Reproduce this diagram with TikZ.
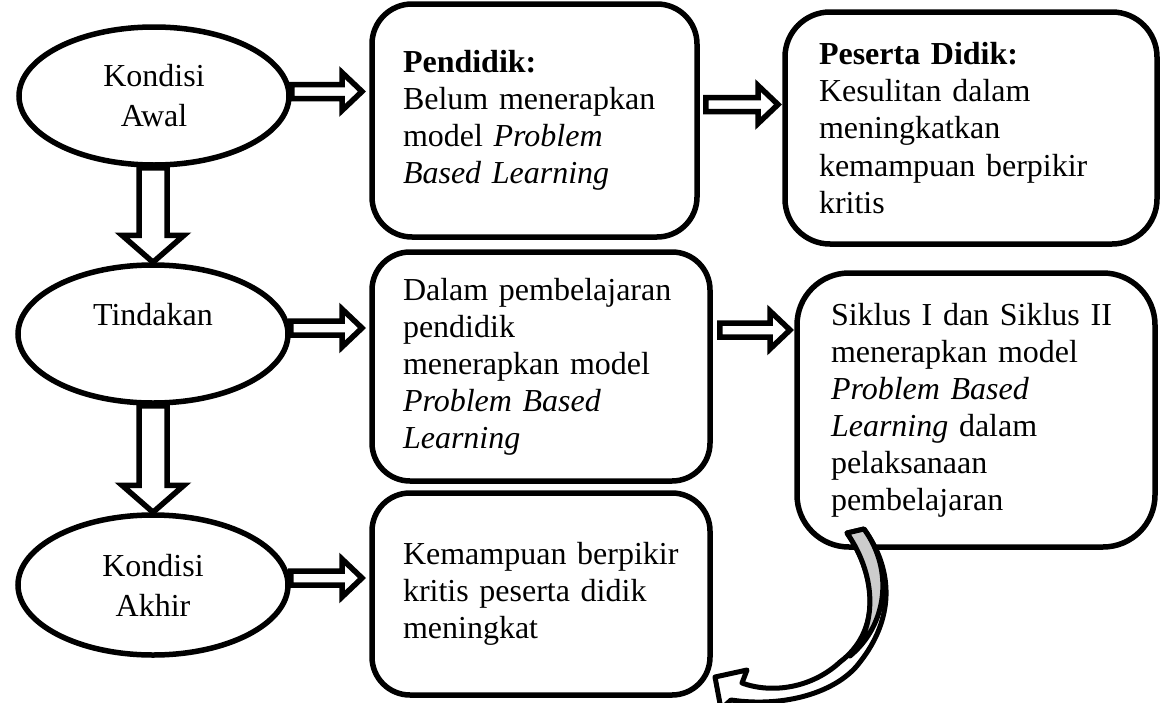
\documentclass[tikz,border=0pt]{standalone}
\usepackage{fontspec}
\setmainfont{Liberation Serif}
\usetikzlibrary{shapes.geometric,calc}

\newlength{\du}
\setlength{\du}{0.375pt}

\tikzset{
  stage/.style={ellipse, draw, line width=5.5\du, fill=white, inner sep=0pt,
    minimum width=270\du, minimum height=138\du, align=center,
    font=\fontsize{12}{15}\selectfont},
  infobox/.style={rectangle, draw, line width=5.5\du, fill=white,
    rounded corners=38\du, inner sep=0pt, align=left,
    font=\fontsize{12}{13.9}\selectfont},
  hollow/.style={draw, line width=5.5\du, fill=white, line join=miter},
  twist/.style={draw, line width=5\du, fill=white, line join=round},
}

% hollow arrow to the right, from #1 to the tip #2
\newcommand{\hollowright}[2]{%
  \draw[hollow] ($(#1 |- #2)+(0,7\du)$) -- ($(#2)+(-20\du,7\du)$)
    -- ($(#2)+(-20\du,19\du)$) -- (#2) -- ($(#2)+(-20\du,-19\du)$)
    -- ($(#2)+(-20\du,-7\du)$) -- ($(#1 |- #2)+(0,-7\du)$) -- cycle;}
% hollow arrow downwards, from #1 to the tip #2
\newcommand{\hollowdown}[2]{%
  \draw[hollow] ($(#2 |- #1)+(-14\du,0)$) -- ($(#2)+(-14\du,-27\du)$)
    -- ($(#2)+(-31\du,-27\du)$) -- (#2) -- ($(#2)+(31\du,-27\du)$)
    -- ($(#2)+(14\du,-27\du)$) -- ($(#2 |- #1)+(14\du,0)$) -- cycle;}

\begin{document}
\begin{tikzpicture}[yscale=-1]
\useasboundingbox (0,0) rectangle (1167\du,703\du);

% left column
\node[stage] (awal) at (154\du,96\du) {Kondisi\\Awal};
\node[stage] (tind) at (153\du,334\du) {Tindakan\\\mbox{}};
\node[stage, minimum height=140\du] (akhir) at (153\du,585\du) {Kondisi\\Akhir};

% middle column
\node[infobox, rounded corners=40\du, minimum width=325\du, minimum height=233\du,
  text width=263\du] (pend) at (534.5\du,120.5\du)
  {\textbf{Pendidik:}\\Belum menerapkan\\model \textit{Problem}\\\textit{Based Learning}};
\node[infobox, minimum width=338\du, minimum height=229\du,
  text width=276\du] (dal) at (541\du,366.5\du)
  {Dalam pembelajaran\\pendidik\\menerapkan model\\\textit{Problem Based}\\\textit{Learning}};
\node[infobox, minimum width=338\du, minimum height=202\du,
  text width=276\du] (kem) at (541\du,594\du)
  {Kemampuan berpikir\\kritis peserta didik\\meningkat};

% right column
\node[infobox, rounded corners=45\du, minimum width=372\du, minimum height=232\du,
  text width=304\du] (pes) at (971\du,128\du)
  {\textbf{Peserta Didik:}\\Kesulitan dalam\\meningkatkan\\kemampuan berpikir\\kritis};
\node[infobox, rounded corners=52\du, minimum width=358\du, minimum height=274\du,
  text width=290\du] (sik) at (976\du,410\du)
  {Siklus I dan Siklus II\\menerapkan model\\\textit{Problem Based}\\\textit{Learning} dalam\\pelaksanaan\\pembelajaran};

% arrow tips and free ends
\coordinate (tipawal) at (362\du,91.5\du);
\coordinate (tiptind) at (362\du,328\du);
\coordinate (tipakhir) at (362\du,578\du);
\coordinate (frompend) at ($(pend.east)+(6\du,0)$);
\coordinate (tippes) at (778\du,104.5\du);
\coordinate (fromdal) at ($(dal.east)+(7\du,0)$);
\coordinate (tipsik) at (790\du,330\du);

\hollowdown{awal.south}{tind.north}
\hollowdown{tind.south}{akhir.north}
\hollowright{awal.east}{tipawal}
\hollowright{tind.east}{tiptind}
\hollowright{akhir.east}{tipakhir}
\hollowright{frompend}{tippes}
\hollowright{fromdal}{tipsik}

% curved arrow back to the result
\draw[twist] (847\du,533\du) .. controls (878\du,578\du) and (880\du,632\du) .. (840\du,662\du)
  .. controls (812\du,688\du) and (772\du,694\du) .. (742\du,683\du)
  -- (747\du,670\du) -- (715\du,677\du) -- (721\du,709\du) -- (731\du,700\du)
  .. controls (785\du,708\du) and (838\du,692\du) .. (860\du,662\du)
  .. controls (893\du,620\du) and (895\du,572\du) .. (864\du,529\du) -- cycle;
\draw[twist, fill=gray!40] (847\du,533\du) .. controls (878\du,578\du) and (876\du,628\du) .. (850\du,656\du)
  .. controls (886\du,626\du) and (895\du,572\du) .. (864\du,529\du) -- cycle;
\end{tikzpicture}
\end{document}
